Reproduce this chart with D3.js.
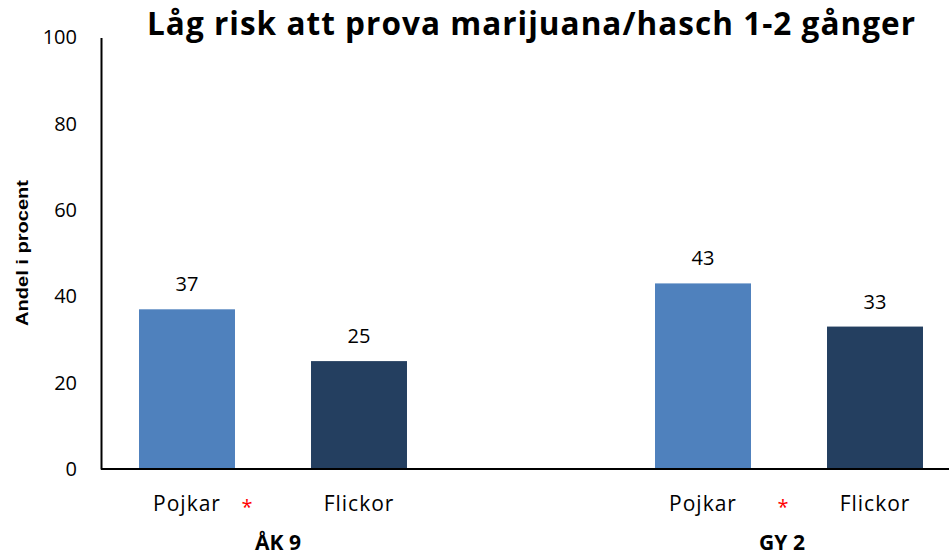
<!DOCTYPE html>
<html><head><meta charset="utf-8">
<script src="https://cdn.jsdelivr.net/npm/d3@7"></script>
<style>body{margin:0;background:#fff}svg{display:block}</style>
</head><body>
<script>
const title = "Låg risk att prova marijuana/hasch 1-2 gånger";
const yLabel = "Andel i procent";
const groups = ["ÅK 9", "GY 2"];
const genders = ["Pojkar", "Flickor"];
const pojkar = [37, 43];
const flickor = [25, 33];
const significant = [true, true];
const yTicks = [0, 20, 40, 60, 80, 100];
const colors = {Pojkar: "#4F81BD", Flickor: "#243F60"};

// layout
const W = 949, H = 556;
const asteriskShift = [60, 80];   // px right of the Pojkar bar centre
const groupLabelShift = [5, -7];  // px from pair centre
const svg = d3.select("body").append("svg").attr("width", W).attr("height", H);
const plotLeft = 101, plotBottom = 469, plotTop = 37.4;
const y = d3.scaleLinear().domain([0, 100]).range([plotBottom, plotTop]);
// five slots: group1 (2 bars), gap, group2 (2 bars)
const x = d3.scaleBand().domain([0, 1, 2, 3, 4]).range([plotLeft, plotLeft + 5 * 172]).paddingInner(0.442).paddingOuter(0.221);

const bars = [];
groups.forEach((g, gi) => {
  bars.push({group: g, gender: genders[0], value: pojkar[gi], slot: gi * 3});
  bars.push({group: g, gender: genders[1], value: flickor[gi], slot: gi * 3 + 1});
});

const font = "'Open Sans', sans-serif";

// title
svg.append("text").attr("x", 531).attr("y", 35).attr("text-anchor", "middle")
  .attr("font-family", font).attr("font-weight", "bold").attr("font-size", 31.5)
  .attr("textLength", 768).attr("lengthAdjust", "spacing")
  .attr("fill", "#000").text(title);

// y axis
const yAxis = d3.axisLeft(y).tickValues(yTicks).tickSize(0).tickPadding(24);
const gy = svg.append("g").attr("transform", `translate(${plotLeft},0)`).call(yAxis);
gy.select(".domain").attr("stroke", "#000").attr("stroke-width", 2);
gy.selectAll("text").attr("font-family", font).attr("font-size", 20).attr("fill", "#000");

svg.append("text").attr("transform", `translate(28,253) rotate(-90)`).attr("text-anchor", "middle")
  .attr("font-family", "'Liberation Sans', Arial, sans-serif").attr("font-weight", "bold").attr("font-size", 17)
  .attr("textLength", 146).attr("lengthAdjust", "spacingAndGlyphs")
  .text(yLabel);

// bars
svg.selectAll("rect.bar").data(bars).join("rect").attr("class", "bar")
  .attr("x", d => x(d.slot)).attr("width", x.bandwidth())
  .attr("y", d => y(d.value)).attr("height", d => y(0) - y(d.value))
  .attr("fill", d => colors[d.gender]);

// value labels
svg.selectAll("text.val").data(bars).join("text").attr("class", "val")
  .attr("x", d => x(d.slot) + x.bandwidth() / 2).attr("y", d => y(d.value) - 18)
  .attr("text-anchor", "middle").attr("font-family", font).attr("font-size", 20).attr("fill", "#000")
  .text(d => d.value);

// x axis line
svg.append("line").attr("x1", plotLeft).attr("x2", W).attr("y1", plotBottom).attr("y2", plotBottom)
  .attr("stroke", "#000").attr("stroke-width", 2);

// category labels
svg.selectAll("text.cat").data(bars).join("text").attr("class", "cat")
  .attr("x", d => x(d.slot) + x.bandwidth() / 2).attr("y", 511)
  .attr("text-anchor", "middle").attr("font-family", font).attr("font-size", 21)
  .attr("letter-spacing", 1).attr("fill", "#000")
  .text(d => d.gender);

// significance asterisks and group labels
groups.forEach((g, gi) => {
  const pc = x(gi * 3) + x.bandwidth() / 2;
  const cx = (x(gi * 3) + x(gi * 3 + 1) + x.bandwidth()) / 2;
  if (significant[gi]) {
    svg.append("text").attr("x", pc + asteriskShift[gi]).attr("y", 514).attr("text-anchor", "middle")
      .attr("font-family", font).attr("font-size", 20).attr("fill", "#FF0000").text("*");
  }
  svg.append("text").attr("x", cx + groupLabelShift[gi]).attr("y", 550).attr("text-anchor", "middle")
    .attr("font-family", font).attr("font-weight", "bold").attr("font-size", 21).attr("fill", "#000").text(g);
});
</script>
</body></html>
